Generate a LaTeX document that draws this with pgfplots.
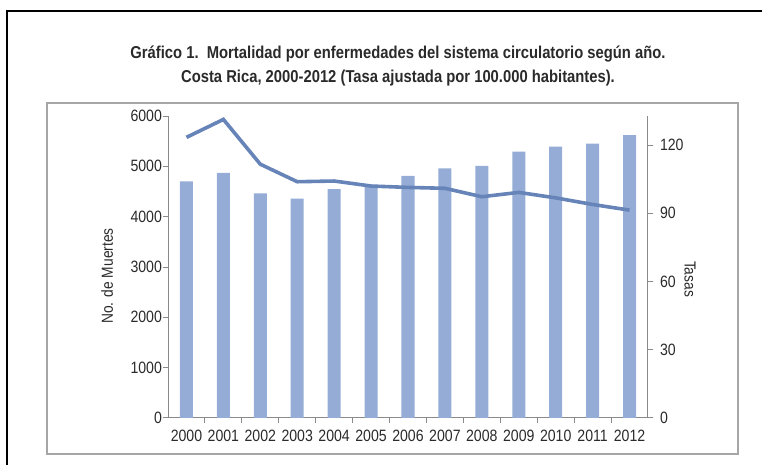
\documentclass[border=0pt]{standalone}
\usepackage{fontspec}
\setmainfont{Liberation Sans}[FakeStretch=0.86]
\usepackage{pgfplots}
\pgfplotsset{compat=1.18}

\definecolor{barblue}{HTML}{94ACD6}
\definecolor{lineblue}{HTML}{6784B8}
\definecolor{axgray}{HTML}{8A8A8A}
\definecolor{txt}{HTML}{2A2A2A}

\pgfplotsset{twin/.style={
    scale only axis, width=240pt, height=151pt,
    xmin=-0.5, xmax=12.5,
    tick align=outside, major tick length=2.5pt, minor tick length=2.5pt,
    axis line style={draw=axgray, line width=0.5pt},
    tick style={draw=axgray, line width=0.5pt},
    tick label style={font=\fontsize{8.2}{9.5}\selectfont, text=txt},
    label style={font=\fontsize{8}{9.5}\selectfont, text=txt},
    /pgf/number format/assume math mode=true,
    /pgf/number format/1000 sep={},
    scaled y ticks=false,
  }}

\begin{document}
\begin{tikzpicture}[x=0.5pt, y=-0.5pt]
  \useasboundingbox (0,0) rectangle (762,465);
  % outer frame and inner panel
  \draw[black, line width=1pt] (7,465) -- (7,11) -- (762,11);
  \draw[gray!70, line width=0.7pt] (47,103) rectangle (738,454);
  \node[font=\bfseries\fontsize{8.6}{12}\selectfont, text=txt, align=center] at (398,66)
    {Gráfico 1.\ \ Mortalidad por enfermedades del sistema circulatorio según año.\\
     Costa Rica, 2000-2012 (Tasa ajustada por 100.000 habitantes).};
  \coordinate (O) at (168,418);

  \begin{axis}[twin, at={(O)}, anchor=south west,
      ymin=0, ymax=6000,
      axis x line*=bottom, axis y line*=left,
      ytick={0,1000,...,6000},
      yticklabel style={xshift=3pt},
      xtick={0,...,12},
      xticklabels={2000,2001,2002,2003,2004,2005,2006,2007,2008,2009,2010,2011,2012},
      major x tick style={draw=none},
      minor xtick={0.5,1.5,...,11.5},
      ylabel={No. de Muertes},
      ylabel style={at={(axis description cs:-0.127,0.47)}, anchor=center},
    ]
    \addplot[ybar, bar width=6.5pt, bar shift=0pt, fill=barblue, draw=none] coordinates {
      (0,4700) (1,4870) (2,4465) (3,4360) (4,4545) (5,4630) (6,4810)
      (7,4960) (8,5010) (9,5290) (10,5390) (11,5450) (12,5620)};
  \end{axis}

  \begin{axis}[twin, at={(O)}, anchor=south west,
      ymin=0, ymax=132.8,
      axis x line=none, axis y line*=right,
      ytick={0,30,...,120},
      ylabel={Tasas},
      ylabel style={at={(axis description cs:1.0875,0.46)}, anchor=center, rotate=180},
    ]
    \addplot[lineblue, line width=1.8pt, mark=none] coordinates {
      (0,123.4) (1,131.3) (2,111.6) (3,103.9) (4,104.2) (5,102.0) (6,101.4)
      (7,101.0) (8,97.3) (9,99.2) (10,96.8) (11,93.9) (12,91.4)};
  \end{axis}
\end{tikzpicture}
\end{document}
